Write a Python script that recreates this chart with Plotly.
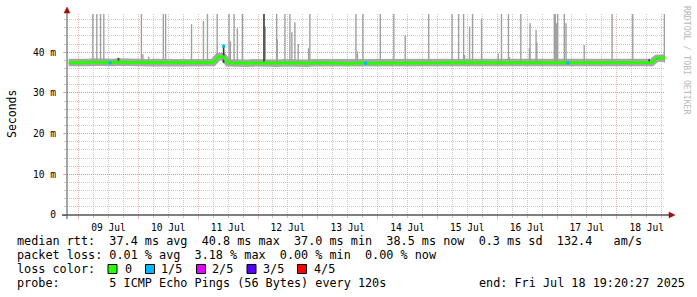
import plotly.graph_objects as go
import pandas as pd

# ---------------- data ----------------
x_start = "2025-07-08 19:20:27"
x_end = "2025-07-18 19:20:27"
y_top = 49.4

y_tick_vals = [0, 10, 20, 30, 40]
y_tick_text = ["0", "10 m", "20 m", "30 m", "40 m"]

median_start = "2025-07-08 20:00"
median_ms = [
    37.5, 37.4,
    37.5, 37.4, 37.5, 37.6, 37.5, 37.5, 37.4, 37.5, 37.6, 37.5, 37.4, 37.5,  # 09 Jul
    37.5, 37.4, 37.4, 37.5, 37.4, 37.4, 37.4, 37.5, 37.4, 37.4, 37.4, 37.5,  # 10 Jul
    37.4, 37.5, 37.4, 37.5, 38.9, 38.9, 37.4, 37.3, 37.4, 37.3, 37.3, 37.4,  # 11 Jul
    37.3, 37.3, 37.4, 37.3, 37.3, 37.4, 37.3, 37.3, 37.4, 37.3, 37.3, 37.4,  # 12 Jul
    37.4, 37.3, 37.3, 37.4, 37.3, 37.3, 37.2, 37.3, 37.3, 37.4, 37.3, 37.3,  # 13 Jul
    37.3, 37.4, 37.3, 37.3, 37.4, 37.3, 37.3, 37.4, 37.3, 37.3, 37.4, 37.4,  # 14 Jul
    37.4, 37.4, 37.5, 37.4, 37.4, 37.5, 37.4, 37.4, 37.4, 37.5, 37.4, 37.4,  # 15 Jul
    37.4, 37.4, 37.5, 37.4, 37.4, 37.4, 37.5, 37.4, 37.4, 37.5, 37.4, 37.4,  # 16 Jul
    37.5, 37.4, 37.4, 37.5, 37.4, 37.4, 37.5, 37.5, 37.4, 37.5, 37.5, 37.4,  # 17 Jul
    37.5, 37.4, 37.4, 37.5, 37.4, 37.5, 37.4, 37.5, 38.5, 38.6, 38.6,        # 18 Jul
]

spike_times = [
    "2025-07-09 05:43", "2025-07-09 07:19", "2025-07-09 08:48", "2025-07-09 10:07",
    "2025-07-10 01:12", "2025-07-10 01:48", "2025-07-10 04:07", "2025-07-10 10:00", "2025-07-10 10:55", "2025-07-10 21:19",
    "2025-07-11 02:07", "2025-07-11 03:43", "2025-07-11 07:36", "2025-07-11 12:24", "2025-07-11 12:55", "2025-07-11 14:24", "2025-07-11 15:43", "2025-07-11 17:43",
    "2025-07-12 02:55", "2025-07-12 07:29", "2025-07-12 07:43", "2025-07-12 10:48", "2025-07-12 12:48", "2025-07-12 13:36", "2025-07-12 14:48", "2025-07-12 16:07", "2025-07-12 20:17", "2025-07-12 20:48",
    "2025-07-13 15:19", "2025-07-13 15:53", "2025-07-13 18:07",
    "2025-07-14 01:05", "2025-07-14 06:31", "2025-07-14 11:05", "2025-07-14 20:31",
    "2025-07-15 05:53", "2025-07-15 08:31", "2025-07-15 10:31", "2025-07-15 10:55", "2025-07-15 12:55", "2025-07-15 14:07", "2025-07-15 17:43",
    "2025-07-16 00:24", "2025-07-16 01:43", "2025-07-16 04:31", "2025-07-16 04:55", "2025-07-16 09:29", "2025-07-16 12:55", "2025-07-16 13:12", "2025-07-16 15:36", "2025-07-16 15:53", "2025-07-16 22:55", "2025-07-16 23:19", "2025-07-16 23:43",
    "2025-07-17 00:17", "2025-07-17 02:55", "2025-07-17 03:36", "2025-07-17 10:55", "2025-07-17 22:07",
    "2025-07-18 06:24", "2025-07-18 19:05",
]
spike_max_ms = [
    50, 50, 50, 50,
    50, 39.5, 38.9, 50, 50, 46.9,
    47.7, 50, 50, 50, 42.7, 50, 45.9, 50,
    46.3, 50, 43.2, 50, 50, 44.9, 47.4, 42.0, 41.0, 50,
    50, 40.2, 50,
    50, 50, 44.2, 50,
    50, 50, 50, 39.3, 46.3, 50, 48.3,
    39.7, 50, 50, 38.8, 50, 41.0, 47.1, 45.5, 42.4, 50, 50, 47.1,
    50, 50, 47.1, 41.8, 50,
    50, 50,
]
spike_base_ms = 37.4

dark_spike_times = ["2025-07-09 16:00", "2025-07-11 10:12", "2025-07-12 02:24", "2025-07-18 13:00"]
dark_spike_max_ms = [38.6, 41.5, 50, 38.3]

loss_dot_times = ["2025-07-09 12:41", "2025-07-11 10:12", "2025-07-13 19:12", "2025-07-17 04:24"]
loss_dot_ms = [37.4, 41.5, 37.3, 37.4]

loss_labels = ["0", "1/5", "2/5", "3/5", "4/5"]
loss_colors = ["#26ff00", "#00b8ff", "#dd00ff", "#5500ff", "#ff0000"]

stat_lines = [
    "median rtt:  37.4 ms avg  40.8 ms max  37.0 ms min  38.5 ms now  0.3 ms sd  132.4   am/s",
    "packet loss: 0.01 % avg  3.18 % max  0.00 % min  0.00 % now",
    "loss color:",
    "probe:       5 ICMP Echo Pings (56 Bytes) every 120s",
]
end_text = "end: Fri Jul 18 19:20:27 2025"
watermark = "RRDTOOL / TOBI OETIKER"
y_title = "Seconds"

# ---------------- layout helpers ----------------
W, H = 697, 297
PL, PR, PT, PB = 67, 665, 14, 215
FONT = "DejaVu Sans Mono"


def xp(px):
    return (px - PL) / (PR - PL)


def yp(py):
    return (PB - py) / (PB - PT)


def nb(s):
    return s.replace(" ", "\u00a0")


median_times = pd.date_range(median_start, periods=len(median_ms), freq="2h")


def segs(times, tops, base):
    xs, ys = [], []
    for t, v in zip(times, tops):
        xs += [t, t, None]
        ys += [base, v, None]
    return xs, ys


fig = go.Figure()

# smoke band (gray) behind median
fig.add_trace(go.Scatter(x=median_times, y=median_ms, mode="lines",
                         line=dict(color="#a8a8a8", width=7.5), hoverinfo="skip"))
# light smoke spikes
sx, sy = segs(spike_times, spike_max_ms, spike_base_ms)
fig.add_trace(go.Scatter(x=sx, y=sy, mode="lines",
                         line=dict(color="#a0a0a0", width=1.4), hoverinfo="skip"))
# dark smoke spikes
dx, dy = segs(dark_spike_times, dark_spike_max_ms, spike_base_ms)
fig.add_trace(go.Scatter(x=dx, y=dy, mode="lines",
                         line=dict(color="#383838", width=1.6), hoverinfo="skip"))
# median line (0 loss colour)
fig.add_trace(go.Scatter(x=median_times, y=median_ms, mode="lines",
                         line=dict(color=loss_colors[0], width=3.0), hoverinfo="skip"))
# loss dots
fig.add_trace(go.Scatter(x=loss_dot_times, y=loss_dot_ms, mode="markers",
                         marker=dict(color=loss_colors[1], size=3, symbol="square"),
                         hoverinfo="skip"))

grid_major = "rgba(215,120,120,0.55)"
grid_minor = "rgba(175,175,175,0.7)"
dash = "1px,1px"

fig.update_xaxes(
    type="date", range=[x_start, x_end],
    tick0="2025-07-09", dtick=86400000, tickformat="%d %b", ticklabelmode="period",
    showgrid=True, gridcolor=grid_major, griddash=dash, gridwidth=1,
    ticks="outside", ticklen=3, tickcolor=grid_major,
    tickfont=dict(family=FONT, size=9.6, color="#000"),
    minor=dict(dtick=6 * 3600000, showgrid=True, gridcolor=grid_minor, griddash=dash,
               ticks="outside", ticklen=2, tickcolor=grid_minor),
    showline=False, zeroline=False, fixedrange=True,
)
fig.update_yaxes(
    range=[0, y_top], tickmode="array", tickvals=y_tick_vals, ticktext=y_tick_text,
    showgrid=True, gridcolor=grid_major, griddash=dash, gridwidth=1,
    ticks="outside", ticklen=3, tickcolor=grid_major,
    tickfont=dict(family=FONT, size=9.6, color="#000"), ticklabelstandoff=5,
    minor=dict(tick0=0, dtick=2, showgrid=True, gridcolor=grid_minor, griddash=dash,
               ticks="outside", ticklen=2, tickcolor=grid_minor),
    showline=False, zeroline=False, fixedrange=True,
)

shapes = []
# axis lines
shapes.append(dict(type="line", xref="paper", yref="paper", x0=xp(62), x1=xp(670), y0=yp(215), y1=yp(215),
                   line=dict(color="#000", width=1)))
shapes.append(dict(type="line", xref="paper", yref="paper", x0=xp(67), x1=xp(67), y0=yp(219), y1=yp(11),
                   line=dict(color="#505050", width=1)))
# arrows
arrow_col = "#9a1010"
shapes.append(dict(type="path", xref="paper", yref="paper",
                   path=f"M {xp(67)} {yp(7)} L {xp(64)} {yp(13)} L {xp(70)} {yp(13)} Z",
                   fillcolor=arrow_col, line=dict(color=arrow_col, width=0.5)))
shapes.append(dict(type="path", xref="paper", yref="paper",
                   path=f"M {xp(675)} {yp(215)} L {xp(669)} {yp(212)} L {xp(669)} {yp(218)} Z",
                   fillcolor=arrow_col, line=dict(color=arrow_col, width=0.5)))

annotations = []
line_y = [241, 255, 269, 283]
for txt, py in zip(stat_lines, line_y):
    annotations.append(dict(text=nb(txt), xref="paper", yref="paper", x=xp(16), y=yp(py),
                            xanchor="left", yanchor="middle", showarrow=False, borderpad=0,
                            font=dict(family=FONT, size=11.8, color="#000")))
annotations.append(dict(text=nb(end_text), xref="paper", yref="paper", x=xp(478), y=yp(283),
                        xanchor="left", yanchor="middle", showarrow=False, borderpad=0,
                        font=dict(family=FONT, size=11.8, color="#000")))

# loss colour legend boxes
box_x = [108, 145.5, 196.5, 247, 297.5]
label_x = [124, 160, 211, 262, 313]
for lab, col, bx, lx in zip(loss_labels, loss_colors, box_x, label_x):
    shapes.append(dict(type="rect", xref="paper", yref="paper",
                       x0=xp(bx), x1=xp(bx + 9), y0=yp(273.5), y1=yp(264.5),
                       fillcolor=col, line=dict(color="#000", width=1)))
    annotations.append(dict(text=nb(lab), xref="paper", yref="paper", x=xp(lx), y=yp(269),
                            xanchor="left", yanchor="middle", showarrow=False, borderpad=0,
                            font=dict(family=FONT, size=11.8, color="#000")))

# y title
annotations.append(dict(text=y_title, xref="paper", yref="paper", x=xp(12), y=yp(114),
                        xanchor="center", yanchor="middle", textangle=-90, showarrow=False,
                        font=dict(family=FONT, size=11.5, color="#000")))
# watermark
annotations.append(dict(text=nb(watermark), xref="paper", yref="paper", x=xp(687), y=yp(60),
                        xanchor="center", yanchor="middle", textangle=90, showarrow=False,
                        font=dict(family=FONT, size=8.2, color="#b8b8b8")))

fig.update_layout(
    width=W, height=H, autosize=False,
    margin=dict(l=PL, r=W - PR, t=PT, b=H - PB, pad=0),
    paper_bgcolor="#ffffff", plot_bgcolor="#ffffff",
    showlegend=False, shapes=shapes, annotations=annotations,
    font=dict(family=FONT),
)

fig.write_html("out.html", config={"displayModeBar": False})
